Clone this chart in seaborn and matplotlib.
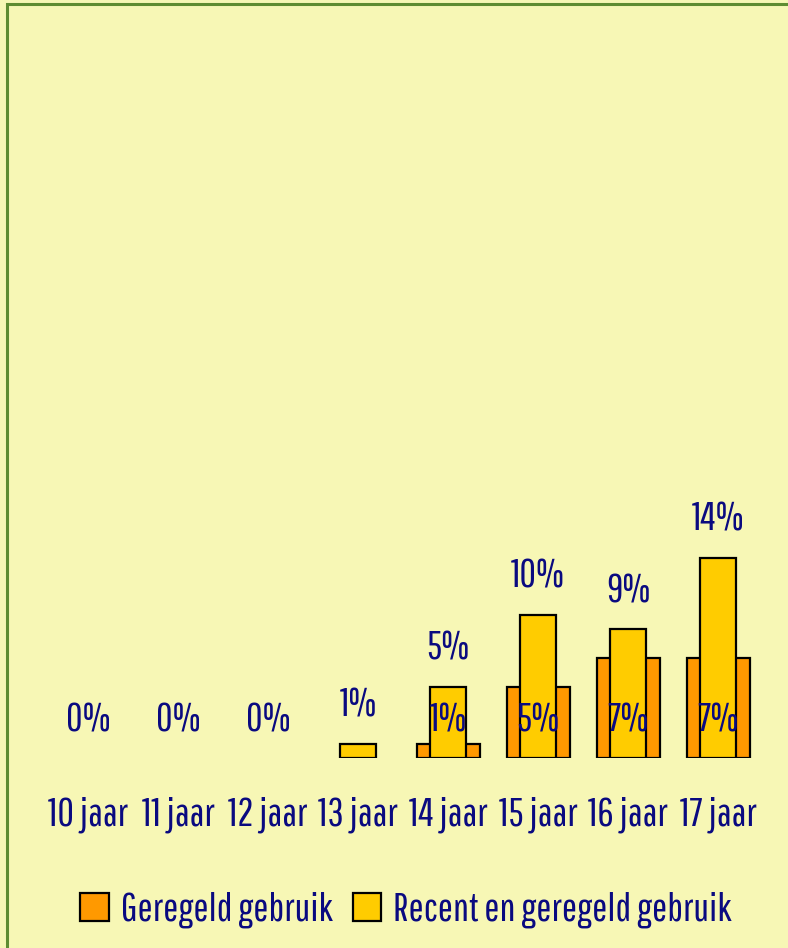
import matplotlib
matplotlib.use("Agg")
import matplotlib.pyplot as plt
import seaborn as sns
import pandas as pd
import numpy as np
from matplotlib.patches import Rectangle, Patch
from matplotlib import font_manager

categories = ["10 jaar", "11 jaar", "12 jaar", "13 jaar", "14 jaar", "15 jaar", "16 jaar", "17 jaar"]
geregeld = [0, 0, 0, np.nan, 1, 5, 7, 7]
recent_geregeld = [np.nan, np.nan, np.nan, 1, 5, 10, 9, 14]
series_names = ["Geregeld gebruik", "Recent en geregeld gebruik"]

sns.set_theme(style="white")
avail = {f.name for f in font_manager.fontManager.ttflist}
cands = ["Pathway Gothic One", "Roboto Condensed", "Archivo Narrow", "PT Sans Narrow",
         "Liberation Sans Narrow", "DejaVu Sans"]
fam = next(c for c in cands if c in avail)
plt.rcParams["font.family"] = [fam, "DejaVu Sans"]

BG = "#F7F7B5"
ORANGE = "#FF9900"
YELLOW = "#FFCC00"
NAVY = "#0A0A80"
FS = 29

W, H = 788, 948
fig = plt.figure(figsize=(W / 100, H / 100), dpi=100)
fig.patch.set_facecolor(BG)
fig.patches.append(Rectangle((7 / W, -0.1), 1.2, 1.1 - 4 / H, transform=fig.transFigure,
                             fill=False, edgecolor="#5E8C31", linewidth=2.2, zorder=0))

base_px = 190
scale = 14.3  # px per percent
ax = fig.add_axes([0, base_px / H, 1, (H - base_px) / H])
ax.set_facecolor("none")

g_plot = [v if (not np.isnan(v) and v > 0) else np.nan for v in geregeld]
df = pd.DataFrame({"cat": categories, "g": g_plot, "r": recent_geregeld})
sns.barplot(data=df, x="cat", y="g", order=categories, color=ORANGE, width=0.7,
            edgecolor="black", linewidth=1.6, saturation=1, ax=ax, errorbar=None)
sns.barplot(data=df, x="cat", y="r", order=categories, color=YELLOW, width=0.4,
            edgecolor="black", linewidth=1.6, saturation=1, ax=ax, errorbar=None)

ax.set_xlim(-88 / 90, (W - 88) / 90)
ax.set_ylim(0, (H - base_px) / scale)
for s in ax.spines.values():
    s.set_visible(False)
ax.set_yticks([])
ax.set_xlabel("")
ax.set_ylabel("")
ax.tick_params(axis="x", length=0, pad=28, labelsize=FS, labelcolor=NAVY)

for i, v in enumerate(geregeld):
    if not np.isnan(v):
        ax.text(i, 38 / scale, f"{v:.0f}%", ha="center", va="center", fontsize=FS, color=NAVY, zorder=5)
for i, v in enumerate(recent_geregeld):
    if not np.isnan(v):
        ax.text(i, v + 38 / scale, f"{v:.0f}%", ha="center", va="center", fontsize=FS, color=NAVY, zorder=5)

handles = [Patch(facecolor=ORANGE, edgecolor="black", linewidth=1.6, label=series_names[0]),
           Patch(facecolor=YELLOW, edgecolor="black", linewidth=1.6, label=series_names[1])]
leg = fig.legend(handles=handles, loc="center", bbox_to_anchor=(406 / W, 38 / H), ncol=2,
                 frameon=False, fontsize=FS, handlelength=0.7, handleheight=0.7,
                 handletextpad=0.3, columnspacing=0.5, labelcolor=NAVY)

fig.savefig("out.png", dpi=100, facecolor=BG)
